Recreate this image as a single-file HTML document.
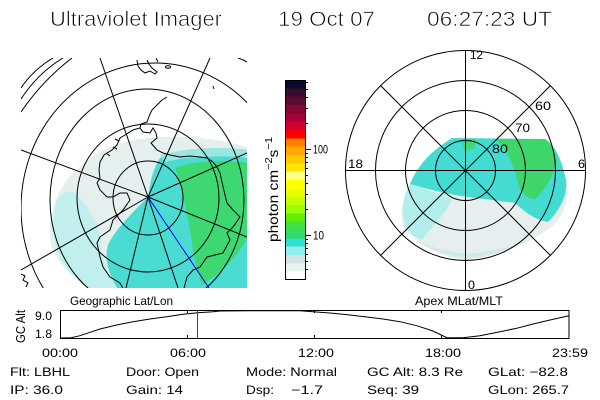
<!DOCTYPE html>
<html><head><meta charset="utf-8"><style>
html,body{margin:0;padding:0;background:#fff;}
svg{display:block;}
text{font-family:"Liberation Sans",sans-serif;fill:#000;}
</style></head><body>
<svg width="600" height="400" viewBox="0 0 600 400" xmlns="http://www.w3.org/2000/svg">
<rect width="600" height="400" fill="#fff"/>
<defs>
<clipPath id="cl"><rect x="21" y="58" width="226" height="230"/></clipPath>
</defs>

<!-- Title -->
<g stroke="#fff" stroke-width="0.7">
<text x="50" y="26" font-size="21" textLength="172" lengthAdjust="spacingAndGlyphs">Ultraviolet Imager</text>
<text x="278" y="26" font-size="21" textLength="97" lengthAdjust="spacingAndGlyphs">19 Oct 07</text>
<text x="427" y="26" font-size="21" textLength="125" lengthAdjust="spacingAndGlyphs">06:27:23 UT</text>
</g>

<!-- LEFT PLOT -->
<g clip-path="url(#cl)">
  <path d="M 50,240 C 48,212 58,188 75,171 C 92,155 112,143 140,139 C 175,134 215,137 250,148 L 250,292 L 96,292 C 74,279 54,262 50,240 Z" fill="#e5efed"/>
  <path d="M 57,200 C 52,220 52,245 62,262 C 72,277 85,287 96,292 L 120,292 C 108,275 101,258 101,240 C 99,225 90,210 80,198 C 72,188 64,190 57,200 Z" fill="#c0efed"/>
  <path d="M 148,197 C 150,185 152,170 160,158 C 175,152 210,148 250,150 L 250,292 L 120,292 C 108,275 104,258 108,245 C 115,230 130,215 148,197 Z" fill="#4adcd2"/>
  <path d="M 160,155 C 185,148 220,146 250,150 L 250,158 C 220,155 190,156 165,162 Z" fill="#9ae6e0"/>
  <path d="M 175,168 C 195,160 222,160 250,163 L 250,232 C 240,255 222,272 202,285 C 196,270 193,250 190,230 C 186,210 183,190 175,168 Z" fill="#3ed872"/>

  <!-- coastlines -->
  <g fill="none" stroke="#000" stroke-width="1">
    <path d="M 167,97 L 162,100 L 157,105 L 152,110 L 150,114 L 147,122 L 141,124 L 140,128 L 133,130 L 125,135 L 120,138 L 117,145 L 112,150 L 104,155 L 100,162 L 99,170 L 100,178 L 97,183 L 100,190 L 107,197 L 113,197 L 120,193 L 127,193 L 130,200 L 123,210 L 113,220 L 110,230 L 100,237 L 97,243 L 100,257 L 103,267 L 110,277 L 120,283 L 125,292"/>
    <path d="M 140,128 L 143,132 L 150,133 L 153,128 L 156,133 L 157,138 L 151,143 L 157,150 L 163,153 L 170,155 L 180,157 L 190,156 L 200,157 L 207,158 L 213,162 L 217,167 L 220,173 L 222,182 L 225,195 L 227,203 L 233,210 L 240,217 L 233,227 L 227,233 L 230,240 L 223,253 L 207,257 L 200,267 L 193,270 L 187,277 L 183,292"/>
    <path d="M 137,60 L 138,66 L 141,70 L 145,73 L 150,71 L 155,74 L 157,72 L 152,68 L 149,64 L 147,60"/>
    <path d="M 156,58 L 158,62"/>
    <ellipse cx="168" cy="67" rx="2.5" ry="1.2"/>
    <path d="M 213,86 L 214,89"/>
    <path d="M 115,139 L 119,141 M 113,147 L 117,149 M 106,153 L 110,156"/>
    <path d="M 21,274 L 25,276 L 23,280 L 28,283 L 26,287"/>
  </g>

  <!-- latitude circles -->
  <g fill="none" stroke="#000" stroke-width="1">
    <ellipse cx="148" cy="198" rx="35" ry="37"/>
    <ellipse cx="148" cy="198" rx="71" ry="74"/>
    <ellipse cx="147" cy="200" rx="97" ry="111"/>
    <ellipse cx="155" cy="208" rx="134" ry="145"/>
    <path d="M 53,58 Q 33,70 21,88"/>
    <path d="M 63,58 Q 38,73 21,99"/>
    <path d="M 72,58 Q 43,80 21,112"/>
    <path d="M 238,58 Q 244,60 247,62"/>
  </g>

  <!-- meridians -->
  <g stroke="#000" stroke-width="1" fill="none">
    <line x1="148" y1="197" x2="100" y2="58"/>
    <line x1="148" y1="197" x2="210" y2="58"/>
    <line x1="148" y1="197" x2="21" y2="150"/>
    <line x1="148" y1="197" x2="247" y2="153"/>
    <line x1="148" y1="197" x2="21" y2="270"/>
    <line x1="148" y1="197" x2="247" y2="237"/>
    <line x1="148" y1="197" x2="126" y2="288"/>
    <line x1="148" y1="197" x2="178" y2="288"/>
  </g>
  <line x1="148" y1="197" x2="209" y2="288" stroke="#0000ff" stroke-width="1"/>
</g>

<!-- COLORBAR -->
<g shape-rendering="crispEdges">
<rect x="285" y="80" width="20" height="8.4" fill="#0a0a30"/>
<rect x="285" y="88.3" width="20" height="8.4" fill="#380a30"/>
<rect x="285" y="96.7" width="20" height="8.4" fill="#5a0a32"/>
<rect x="285" y="105" width="20" height="8.4" fill="#800a32"/>
<rect x="285" y="113.3" width="20" height="8.4" fill="#a8003a"/>
<rect x="285" y="121.7" width="20" height="8.4" fill="#d00030"/>
<rect x="285" y="130" width="20" height="8.4" fill="#ff0000"/>
<rect x="285" y="138.3" width="20" height="8.4" fill="#ff8000"/>
<rect x="285" y="146.7" width="20" height="8.4" fill="#ffa800"/>
<rect x="285" y="155" width="20" height="8.4" fill="#ffc800"/>
<rect x="285" y="163.3" width="20" height="8.4" fill="#ffe400"/>
<rect x="285" y="171.7" width="20" height="8.4" fill="#ffff88"/>
<rect x="285" y="180" width="20" height="8.4" fill="#ffff00"/>
<rect x="285" y="188.3" width="20" height="8.4" fill="#e8ff00"/>
<rect x="285" y="196.7" width="20" height="8.4" fill="#c8ff00"/>
<rect x="285" y="205" width="20" height="8.4" fill="#98ff00"/>
<rect x="285" y="213.3" width="20" height="8.4" fill="#60f000"/>
<rect x="285" y="221.7" width="20" height="8.4" fill="#40e040"/>
<rect x="285" y="230" width="20" height="8.4" fill="#30dc68"/>
<rect x="285" y="238.3" width="20" height="8.4" fill="#30e0d0"/>
<rect x="285" y="246.7" width="20" height="8.4" fill="#90f0f0"/>
<rect x="285" y="255" width="20" height="8.4" fill="#d4e4e4"/>
<rect x="285" y="263.3" width="20" height="8.4" fill="#e8f4ee"/>
<rect x="285" y="271.7" width="20" height="7.3" fill="#ffffff"/>
<rect x="285.5" y="80.5" width="20" height="199" fill="none" stroke="#000" stroke-width="1"/>
<g stroke="#000" stroke-width="1">
<line x1="305" y1="149.5" x2="311" y2="149.5"/>
<line x1="305" y1="235.5" x2="311" y2="235.5"/>
<line x1="305" y1="82.5" x2="308" y2="82.5"/>
<line x1="305" y1="89.5" x2="308" y2="89.5"/>
<line x1="305" y1="97.5" x2="308" y2="97.5"/>
<line x1="305" y1="108.5" x2="308" y2="108.5"/>
<line x1="305" y1="123.5" x2="308" y2="123.5"/>
<line x1="305" y1="153.5" x2="308" y2="153.5"/>
<line x1="305" y1="157.5" x2="308" y2="157.5"/>
<line x1="305" y1="162.5" x2="308" y2="162.5"/>
<line x1="305" y1="168.5" x2="308" y2="168.5"/>
<line x1="305" y1="175.5" x2="308" y2="175.5"/>
<line x1="305" y1="183.5" x2="308" y2="183.5"/>
<line x1="305" y1="194.5" x2="308" y2="194.5"/>
<line x1="305" y1="209.5" x2="308" y2="209.5"/>
<line x1="305" y1="239.5" x2="308" y2="239.5"/>
<line x1="305" y1="243.5" x2="308" y2="243.5"/>
<line x1="305" y1="248.5" x2="308" y2="248.5"/>
<line x1="305" y1="254.5" x2="308" y2="254.5"/>
<line x1="305" y1="261.5" x2="308" y2="261.5"/>
<line x1="305" y1="269.5" x2="308" y2="269.5"/>
</g>
</g>
<text x="313" y="153.5" font-size="12" textLength="15" lengthAdjust="spacingAndGlyphs">100</text>
<text x="313" y="239.5" font-size="12" textLength="11" lengthAdjust="spacingAndGlyphs">10</text>
<text transform="translate(278,242) rotate(-90)" font-size="14" textLength="105" lengthAdjust="spacingAndGlyphs">photon cm<tspan dy="-6" font-size="10">−2</tspan><tspan dy="6">s</tspan><tspan dy="-6" font-size="10">−1</tspan></text>

<!-- RIGHT PLOT -->
<path d="M 452,138 L 545,139 C 555,145 562,160 566,180 C 570,200 565,215 550,228 C 530,242 500,256 468,260 C 440,258 420,245 405,230 C 398,218 402,195 412,180 C 420,165 430,152 452,138 Z" fill="#e6efed"/>
<path d="M 452,138 L 545,139 C 555,145 562,160 566,180 C 568,195 560,210 548,222 C 535,220 525,212 515,203 C 495,200 470,198 450,194 C 435,191 420,187 410,184 C 418,165 430,152 452,138 Z" fill="#44dcd2"/>
<path d="M 410,184 C 425,189 440,194 452,199 C 446,214 432,226 422,240 C 410,236 403,226 403,210 C 403,200 406,190 410,184 Z" fill="#b2eeec"/>
<path d="M 495,139 L 545,139 C 552,145 557,152 557,162 C 553,177 545,190 535,199 C 525,199 519,190 516,176 C 512,160 505,148 495,139 Z" fill="#3ed66a"/>
<path d="M 462,139 L 476,139 L 475,149 L 464,150 Z" fill="#40d878"/>
<path d="M 415,240 C 430,250 450,257 468,258 C 490,256 515,248 535,238 C 515,246 490,252 468,254 C 448,252 430,247 415,240 Z" fill="#cfe8e8"/>

<g fill="none" stroke="#000" stroke-width="1">
<circle cx="465.5" cy="170.5" r="30"/>
<circle cx="465.5" cy="170.5" r="60"/>
<circle cx="465.5" cy="170.5" r="90"/>
<circle cx="465.5" cy="170.5" r="120"/>
<line x1="465.5" y1="50.5" x2="465.5" y2="290.5"/>
<line x1="345.5" y1="170.5" x2="585.5" y2="170.5"/>
<line x1="380.6" y1="85.6" x2="550.4" y2="255.4"/>
<line x1="550.4" y1="85.6" x2="380.6" y2="255.4"/>
</g>
<text x="470" y="59" font-size="12" textLength="13" lengthAdjust="spacingAndGlyphs">12</text>
<text x="348" y="168" font-size="12" textLength="15" lengthAdjust="spacingAndGlyphs">18</text>
<text x="578" y="168" font-size="12" textLength="7" lengthAdjust="spacingAndGlyphs">6</text>
<text x="468" y="289" font-size="12" textLength="7" lengthAdjust="spacingAndGlyphs">0</text>
<text x="535" y="110" font-size="12" textLength="16" lengthAdjust="spacingAndGlyphs">60</text>
<text x="515" y="132" font-size="12" textLength="15" lengthAdjust="spacingAndGlyphs">70</text>
<text x="492" y="153" font-size="12" textLength="16" lengthAdjust="spacingAndGlyphs">80</text>

<!-- STRIP -->
<text x="70" y="305" font-size="12" textLength="103" lengthAdjust="spacingAndGlyphs">Geographic Lat/Lon</text>
<text x="415" y="305" font-size="12" textLength="88" lengthAdjust="spacingAndGlyphs">Apex MLat/MLT</text>
<text transform="translate(25,343) rotate(-90)" font-size="13" textLength="33" lengthAdjust="spacingAndGlyphs">GC Alt</text>
<text x="35" y="320" font-size="12" textLength="17" lengthAdjust="spacingAndGlyphs">9.0</text>
<text x="35" y="338" font-size="12" textLength="17" lengthAdjust="spacingAndGlyphs">1.8</text>
<rect x="60.5" y="310.5" width="508.5" height="28" fill="none" stroke="#000" stroke-width="1"/>
<g stroke="#000" stroke-width="1">
<line x1="187.5" y1="338" x2="187.5" y2="335"/>
<line x1="314.5" y1="338" x2="314.5" y2="335"/>
<line x1="441.5" y1="338" x2="441.5" y2="335"/>
<line x1="187.5" y1="311" x2="187.5" y2="313"/>
<line x1="314.5" y1="311" x2="314.5" y2="313"/>
<line x1="441.5" y1="311" x2="441.5" y2="313"/>
</g>
<polyline fill="none" stroke="#000" stroke-width="1" points="61,338 71,337.7 80,335.7 90,332.3 100,329 116.7,325 133,321.7 150,319 166.7,316.7 183,314.3 197.7,312.7 213,311.7 220,311 250,310.7 300,310.7 313,311.7 333,313.3 350,315 366.7,317 383,319 400,321.7 416.7,325.7 433,331 446.7,337.6 463,337.7 480,335.7 500,331.7 516.7,328.3 533,324 550,320 569,315.7"/>
<line x1="197.5" y1="311" x2="197.5" y2="338" stroke="#e00000" stroke-width="1"/>
<text x="60" y="357" font-size="12" text-anchor="middle" textLength="36" lengthAdjust="spacingAndGlyphs">00:00</text>
<text x="188" y="357" font-size="12" text-anchor="middle" textLength="36" lengthAdjust="spacingAndGlyphs">06:00</text>
<text x="316" y="357" font-size="12" text-anchor="middle" textLength="36" lengthAdjust="spacingAndGlyphs">12:00</text>
<text x="443" y="357" font-size="12" text-anchor="middle" textLength="36" lengthAdjust="spacingAndGlyphs">18:00</text>
<text x="570" y="357" font-size="12" text-anchor="middle" textLength="36" lengthAdjust="spacingAndGlyphs">23:59</text>

<!-- INFO -->
<text x="10" y="376" font-size="12" textLength="60" lengthAdjust="spacingAndGlyphs">Flt: LBHL</text>
<text x="10" y="394" font-size="12" textLength="53" lengthAdjust="spacingAndGlyphs">IP: 36.0</text>
<text x="126" y="376" font-size="12" textLength="73" lengthAdjust="spacingAndGlyphs">Door: Open</text>
<text x="126" y="394" font-size="12" textLength="57" lengthAdjust="spacingAndGlyphs">Gain: 14</text>
<text x="246" y="376" font-size="12" textLength="91" lengthAdjust="spacingAndGlyphs">Mode: Normal</text>
<text x="246" y="394" font-size="12" textLength="28" lengthAdjust="spacingAndGlyphs">Dsp:</text>
<text x="291" y="394" font-size="12" textLength="32" lengthAdjust="spacingAndGlyphs">−1.7</text>
<text x="367" y="376" font-size="12" textLength="96" lengthAdjust="spacingAndGlyphs">GC Alt: 8.3 Re</text>
<text x="367" y="394" font-size="12" textLength="52" lengthAdjust="spacingAndGlyphs">Seq: 39</text>
<text x="488" y="376" font-size="12" textLength="80" lengthAdjust="spacingAndGlyphs">GLat: −82.8</text>
<text x="488" y="394" font-size="12" textLength="81" lengthAdjust="spacingAndGlyphs">GLon: 265.7</text>
</svg>
</body></html>
